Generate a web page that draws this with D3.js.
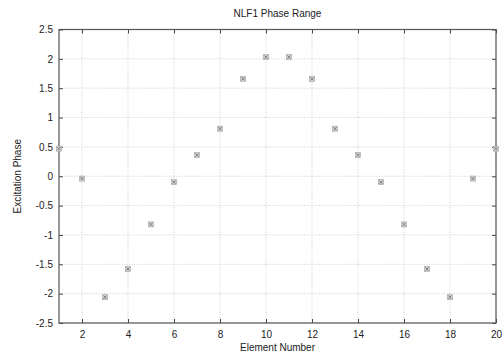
<!DOCTYPE html>
<html>
<head>
<meta charset="utf-8">
<script src="https://cdn.jsdelivr.net/npm/d3@7"></script>
<style>
  body { margin: 0; background: #fff; }
  svg text { font-family: "Liberation Sans", Arial, sans-serif; fill: #222; }
</style>
</head>
<body>
<svg id="chart" width="502" height="353"></svg>
<script>
// element numbers and their excitation phase
var elements = d3.range(1, 21);
var phases = [0.47, -0.04, -2.06, -1.58, -0.82, -0.10, 0.36, 0.81, 1.66, 2.03,
              2.03, 1.66, 0.81, 0.36, -0.10, -0.82, -1.58, -2.06, -0.04, 0.47];
var xTicks = [2, 4, 6, 8, 10, 12, 14, 16, 18, 20];
var yTicks = [-2.5, -2, -1.5, -1, -0.5, 0, 0.5, 1, 1.5, 2, 2.5];

var margin = { top: 29.5, right: 6, bottom: 30, left: 59 };

var svg = d3.select('#chart');
var g = svg.append('g')
    .attr('transform', 'translate(' + margin.left + ',' + margin.top + ')');

var x = d3.scaleLinear().domain([1, 20]).range([0, 437]);
var y = d3.scaleLinear().domain([-2.5, 2.5]).range([293.5, 0]);

// grid
g.append('g').selectAll('line')
    .data(xTicks)
    .enter().append('line')
    .attr('x1', function (d) { return x(d); })
    .attr('x2', function (d) { return x(d); })
    .attr('y1', 0).attr('y2', y(-2.5))
    .style('stroke', '#cfcfcf')
    .style('stroke-dasharray', '1,1.5');

g.append('g').selectAll('line')
    .data(yTicks)
    .enter().append('line')
    .attr('x1', 0).attr('x2', x(20))
    .attr('y1', function (d) { return y(d); })
    .attr('y2', function (d) { return y(d); })
    .style('stroke', '#cfcfcf')
    .style('stroke-dasharray', '1,1.5');

// axes, ticks point inward, mirrored on top / right
var fmt = function (d) { return String(d); };
var axBottom = g.append('g').attr('transform', 'translate(0,' + y(-2.5) + ')')
    .call(d3.axisBottom(x).tickValues(xTicks).tickSizeInner(-4).tickSizeOuter(0).tickPadding(8).tickFormat(fmt));
var axLeft = g.append('g')
    .call(d3.axisLeft(y).tickValues(yTicks).tickSizeInner(-4).tickSizeOuter(0).tickPadding(6).tickFormat(fmt));
var axTop = g.append('g')
    .call(d3.axisTop(x).tickValues(xTicks).tickSizeInner(-4).tickSizeOuter(0).tickFormat(''));
var axRight = g.append('g').attr('transform', 'translate(' + x(20) + ',0)')
    .call(d3.axisRight(y).tickValues(yTicks).tickSizeInner(-4).tickSizeOuter(0).tickFormat(''));

[axBottom, axLeft, axTop, axRight].forEach(function (a) {
    a.select('.domain').remove();
    a.selectAll('.tick line').style('stroke', '#444');
    a.selectAll('text').style('font-size', '10px').style('fill', '#222')
        .style('font-family', '"Liberation Sans", Arial, sans-serif');
});

// frame
g.append('rect')
    .attr('x', 0).attr('y', 0)
    .attr('width', x(20)).attr('height', y(-2.5))
    .style('fill', 'none')
    .style('stroke', '#555')
    .style('stroke-width', 1.2);

// markers: small box with a cross
var pts = g.append('g').selectAll('g')
    .data(elements)
    .enter().append('g')
    .attr('transform', function (d, i) { return 'translate(' + x(d) + ',' + y(phases[i]) + ')'; });
pts.append('rect')
    .attr('x', -2.5).attr('y', -2.5).attr('width', 5).attr('height', 5)
    .style('fill', '#d4d4d4').style('stroke', '#aaa').style('stroke-width', 0.7);
pts.append('path')
    .attr('d', 'M-1.6,-1.6L1.6,1.6M-1.6,1.6L1.6,-1.6')
    .style('stroke', '#6a6a6a').style('stroke-width', 0.8);

// labels
svg.append('text')
    .attr('x', margin.left + x(10.5)).attr('y', 17)
    .attr('text-anchor', 'middle')
    .style('font-size', '10px')
    .text('NLF1 Phase Range');

svg.append('text')
    .attr('x', margin.left + x(10.5)).attr('y', 351)
    .attr('text-anchor', 'middle')
    .style('font-size', '10px')
    .text('Element Number');

svg.append('text')
    .attr('transform', 'translate(21,' + (margin.top + y(0)) + ') rotate(-90)')
    .attr('text-anchor', 'middle')
    .style('font-size', '10px')
    .text('Excitation Phase');
</script>
</body>
</html>
